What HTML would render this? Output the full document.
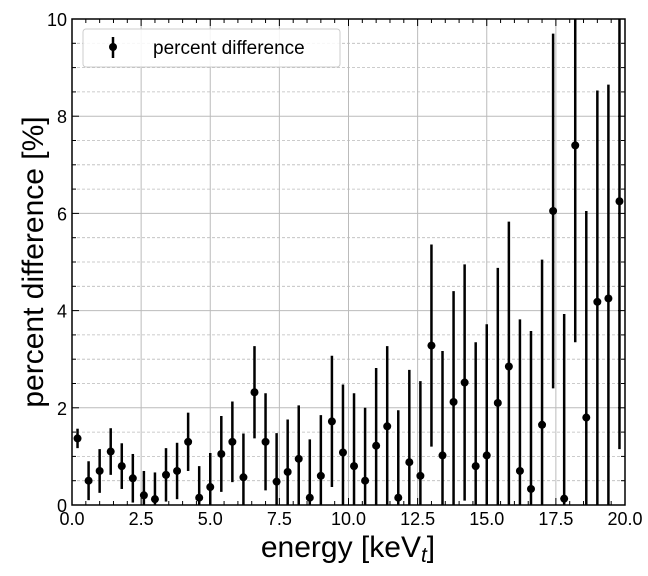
<!DOCTYPE html>
<html><head><meta charset="utf-8"><style>
html,body{margin:0;padding:0;width:648px;height:576px;overflow:hidden;background:#fff;font-family:"Liberation Sans",Arial,sans-serif}
svg{display:block}
svg text{font-family:"Liberation Sans",Arial,sans-serif}
</style></head><body>
<svg id="c" width="648" height="576" style="position:absolute;left:0;top:0"></svg>
<script>
const xs=[0.2,0.6,1.0,1.4,1.8,2.2,2.6,3.0,3.4,3.8,4.2,4.6,5.0,5.4,5.8,6.2,6.6,7.0,7.4,7.8,8.2,8.6,9.0,9.4,9.8,10.2,10.6,11.0,11.4,11.8,12.2,12.6,13.0,13.4,13.8,14.2,14.6,15.0,15.4,15.8,16.2,16.6,17.0,17.4,17.8,18.2,18.6,19.0,19.4,19.8];
const ys=[1.37,0.5,0.7,1.1,0.8,0.55,0.2,0.12,0.62,0.7,1.3,0.15,0.37,1.05,1.3,0.57,2.32,1.3,0.48,0.68,0.95,0.15,0.6,1.72,1.08,0.8,0.5,1.22,1.62,0.15,0.88,0.6,3.28,1.02,2.12,2.52,0.8,1.02,2.1,2.85,0.7,0.33,1.65,6.05,0.13,7.4,1.8,4.18,4.25,6.25];
const errs=[0.2,0.4,0.45,0.48,0.47,0.5,0.5,0.55,0.55,0.58,0.6,0.65,0.7,0.78,0.83,0.9,0.95,1.0,1.0,1.08,1.1,1.2,1.25,1.35,1.4,1.5,1.5,1.6,1.65,1.8,1.9,1.95,2.08,2.15,2.28,2.43,2.55,2.7,2.78,2.98,3.12,3.25,3.4,3.65,3.8,4.05,4.25,4.35,4.4,5.1];
const xTicks=[0,2.5,5,7.5,10,12.5,15,17.5,20];
const xTickLabels=["0.0","2.5","5.0","7.5","10.0","12.5","15.0","17.5","20.0"];
const yTicks=[0,2,4,6,8,10];
const yTickLabels=["0","2","4","6","8","10"];
const L=72,R=625,T=19,B=505,YMIN=0,YMAX=10;
const sx=v=>L+(v/20)*(R-L), sy=v=>B-(v/10)*(B-T);
const clampY=v=>Math.max(YMIN,Math.min(YMAX,v));
const svg=document.getElementById('c');const NS='http://www.w3.org/2000/svg';
function el(t,a,p){const e=document.createElementNS(NS,t);for(const k in a)e.setAttribute(k,a[k]);(p||svg).appendChild(e);return e;}
const defs=el('defs',{});const cp=el('clipPath',{id:'clip'},defs);el('rect',{x:L,y:T,width:R-L,height:B-T},cp);
const grid=el('g',{});
for(let v=0.5;v<10;v+=0.5){if(Math.abs(v%2)<1e-6)continue;el('line',{x1:L,x2:R,y1:sy(v),y2:sy(v),stroke:'#bbb','stroke-width':0.8,'stroke-dasharray':'3,2'},grid);}
yTicks.forEach(v=>el('line',{x1:L,x2:R,y1:sy(v),y2:sy(v),stroke:'#bbb','stroke-width':1},grid));
xTicks.forEach(v=>el('line',{x1:sx(v),x2:sx(v),y1:T,y2:B,stroke:'#bbb','stroke-width':1},grid));
const data=el('g',{'clip-path':'url(#clip)'});
xs.forEach((x,i)=>{
 const l=el('line',{x1:sx(x),x2:sx(x),y1:sy(clampY(ys[i]-errs[i])),y2:sy(clampY(ys[i]+errs[i])),stroke:'#000','stroke-width':2.5},data);
 
 const c=el('circle',{cx:sx(x),cy:sy(ys[i]),r:4,fill:'#000'},data);
 
});
const ax=el('g',{});
el('rect',{x:L,y:T,width:R-L,height:B-T,fill:'none',stroke:'#000','stroke-width':1.5},ax);
for(let v=0.5;v<20;v+=0.5){const maj=xTicks.some(t=>Math.abs(t-v)<1e-6);const len=maj?7:4;
 el('line',{x1:sx(v),x2:sx(v),y1:B,y2:B-len,stroke:'#000','stroke-width':1},ax);el('line',{x1:sx(v),x2:sx(v),y1:T,y2:T+len,stroke:'#000','stroke-width':1},ax);}
for(let v=0.5;v<10;v+=0.5){const maj=yTicks.some(t=>Math.abs(t-v)<1e-6);const len=maj?7:4;
 el('line',{x1:L,x2:L+len,y1:sy(v),y2:sy(v),stroke:'#000','stroke-width':1},ax);el('line',{x1:R,x2:R-len,y1:sy(v),y2:sy(v),stroke:'#000','stroke-width':1},ax);}
xTicks.forEach((v,i)=>{const t=el('text',{x:sx(v),y:B+20,'font-size':18,'text-anchor':'middle'},ax);t.textContent=xTickLabels[i];});
yTicks.forEach((v,i)=>{const t=el('text',{x:L-5,y:sy(v)+7,'font-size':18,'text-anchor':'end'},ax);t.textContent=yTickLabels[i];});
</script>
<svg width="648" height="576" style="position:absolute;left:0;top:0;pointer-events:none">
<text x="348" y="557" font-size="30" text-anchor="middle">energy [keV<tspan font-style="italic" font-size="21" dy="5">t</tspan><tspan dy="-5">]</tspan></text>
<text transform="translate(43,262) rotate(-90)" font-size="30" text-anchor="middle">percent difference [%]</text>
<g>
<rect x="83" y="29" width="257" height="38" rx="3" fill="#fff" fill-opacity="0.85" stroke="#ccc"/>
<line x1="113" y1="37" x2="113" y2="58" stroke="#000" stroke-width="2.5"/>
<circle cx="113" cy="47" r="4" fill="#000"/>
<text x="153" y="54" font-size="19">percent difference</text>
</g>
</svg>
</body></html>
